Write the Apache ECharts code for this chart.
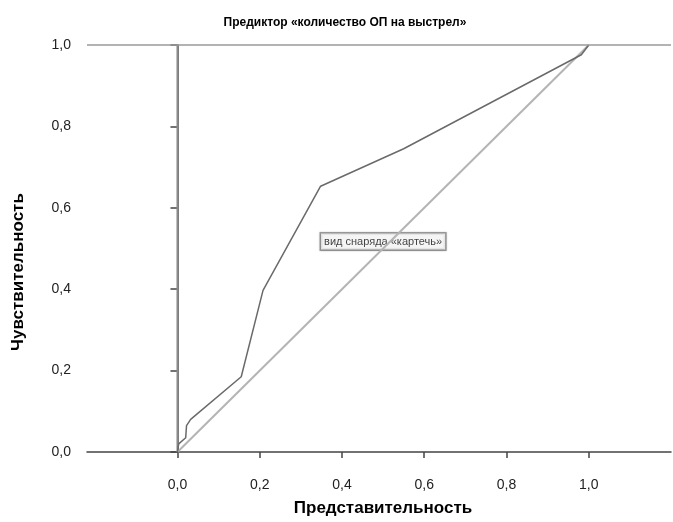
<!DOCTYPE html>
<html>
<head>
<meta charset="utf-8">
<script src="https://cdn.jsdelivr.net/npm/echarts@6/dist/echarts.min.js"></script>
<style>
html,body{margin:0;padding:0;background:#fff;}
#chart{width:673px;height:522px;}
</style>
</head>
<body>
<div id="chart"></div>
<script>
var titleText = 'Предиктор «количество ОП на выстрел»';
var xName = 'Представительность';
var yName = 'Чувствительность';
var curveLabel = 'вид снаряда «картечь»';
var tickValues = [0, 0.2, 0.4, 0.6, 0.8, 1.0];
var rocX = [0, 0.003, 0.02, 0.022, 0.032, 0.155, 0.208, 0.348, 0.55, 0.982, 1.0];
var rocY = [0, 0.02, 0.035, 0.065, 0.08, 0.185, 0.397, 0.653, 0.745, 0.976, 1.0];
var diagX = [0, 1];
var diagY = [0, 1];
var refX = [0, 0];
var refY = [0, 1];
var labelPos = [0.5, 0.517];

function zip(a, b) { return a.map(function (v, i) { return [v, b[i]]; }); }
function fmt(v) { return v.toFixed(1).replace('.', ','); }

var chart = echarts.init(document.getElementById('chart'));
chart.setOption({
  animation: false,
  backgroundColor: '#fff',
  title: {
    text: titleText,
    left: 340, top: 12, textAlign: 'center',
    textStyle: { fontFamily: 'Liberation Sans', fontWeight: 'bold', fontSize: 12, color: '#000' }
  },
  grid: { left: 87, top: 45, width: 584, height: 416 },
  xAxis: {
    type: 'value', min: -0.22, max: 1.2,
    name: xName, nameLocation: 'middle', nameGap: 48,
    nameTextStyle: { fontFamily: 'Liberation Sans', fontWeight: 'bold', fontSize: 17, color: '#000', padding: [0, 0, 0, 8] },
    axisLine: { onZero: false, lineStyle: { color: '#444', width: 1.5 } },
    axisTick: { show: true, customValues: tickValues, length: 6, lineStyle: { color: '#444', width: 1.5 } },
    axisLabel: { customValues: tickValues, formatter: fmt, margin: 26, fontFamily: 'Liberation Sans', fontSize: 14, color: '#222' },
    splitLine: { show: false }
  },
  yAxis: {
    type: 'value', min: 0, max: 1, interval: 0.2,
    axisLine: { show: true, lineStyle: { color: '#444', width: 1.5 } },
    axisTick: { show: true, length: 7, lineStyle: { color: '#444', width: 1.5 } },
    axisLabel: { formatter: fmt, margin: 16, fontFamily: 'Liberation Sans', fontSize: 14, color: '#222' },
    splitLine: { show: false }
  },
  graphic: [{
    type: 'text', x: 18, y: 272, rotation: Math.PI / 2,
    style: { text: yName, align: 'center', verticalAlign: 'middle', fontFamily: 'Liberation Sans', fontWeight: 'bold', fontSize: 17, fill: '#000' }
  }],
  series: [
    {
      type: 'line', data: zip(refX, refY), symbol: 'none',
      lineStyle: { color: '#8a8a8a', width: 2 },
      markLine: {
        silent: true, symbol: 'none', label: { show: false },
        lineStyle: { color: '#9a9a9a', width: 1.5, type: 'solid' },
        data: [{ yAxis: 1 }]
      }
    },
    { type: 'line', data: zip(diagX, diagY), symbol: 'none', lineStyle: { color: '#b4b4b4', width: 2 } },
    { type: 'line', data: zip(rocX, rocY), symbol: 'none', lineStyle: { color: '#6a6a6a', width: 1.5 } },
    {
      type: 'scatter', data: [labelPos], symbolSize: 0,
      label: {
        show: true, position: 'inside', formatter: curveLabel,
        fontFamily: 'Liberation Sans', fontSize: 11, color: '#111',
        backgroundColor: '#fff', borderColor: '#888', borderWidth: 1.5,
        padding: [3, 3, 2, 3], shadowColor: 'rgba(0,0,0,0.25)', shadowBlur: 2
      }
    }
  ]
});
</script>
</body>
</html>
